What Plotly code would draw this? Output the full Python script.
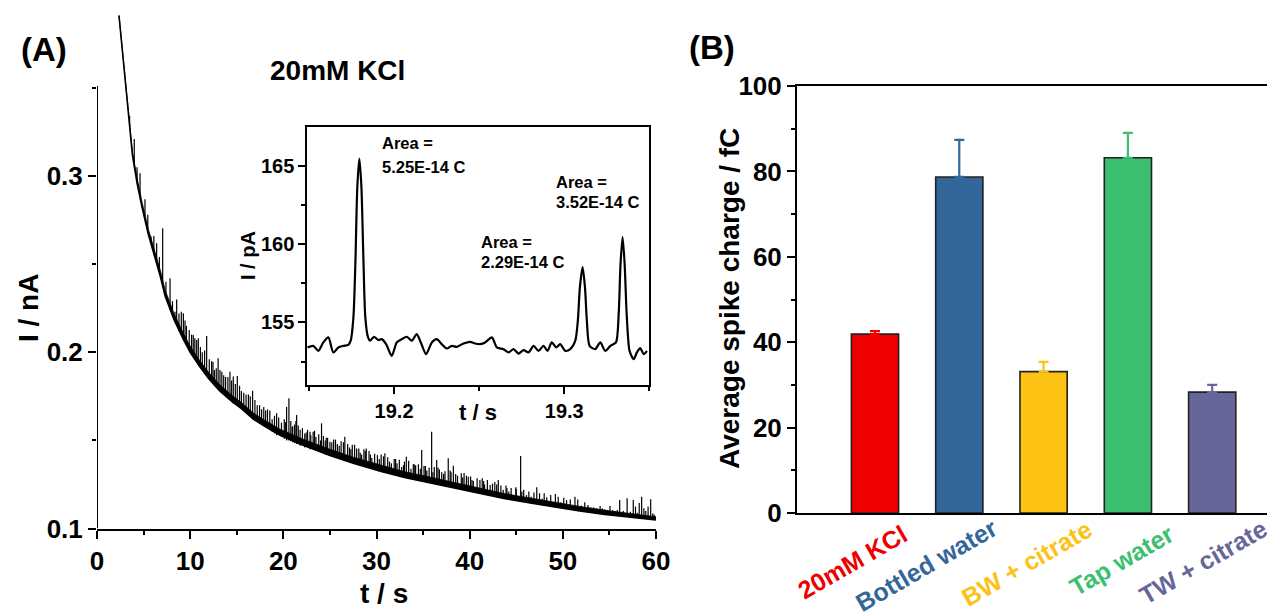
import plotly.graph_objects as go

# ---------------- data: panel A (chronoamperogram) ----------------
base_t = [2.36, 2.8, 3.3, 3.8, 4.3, 4.8, 5.5, 6.2, 6.8, 7.3, 8.3, 9.3, 10.0, 11.0, 12.0,
          13.2, 14.5, 15.5, 16.8, 18.0, 19.6, 22.0, 25.0, 27.5, 30.4, 33.0, 35.7, 38.4,
          41.1, 43.8, 46.5, 49.1, 51.8, 54.5, 57.2, 60.0]
base_I = [0.391, 0.366, 0.338, 0.312, 0.296, 0.283, 0.267, 0.254, 0.243, 0.232, 0.218,
          0.207, 0.200, 0.192, 0.185, 0.178, 0.172, 0.168, 0.162, 0.158, 0.153, 0.1475,
          0.1415, 0.137, 0.1325, 0.129, 0.126, 0.123, 0.120, 0.117, 0.1145, 0.1122,
          0.110, 0.108, 0.1064, 0.1049]
# upper edge of the dense noise band
band_I = [0.391, 0.367, 0.340, 0.314, 0.299, 0.286, 0.270, 0.257, 0.2465, 0.2355, 0.2215,
          0.2105, 0.2035, 0.1955, 0.1885, 0.1815, 0.1755, 0.1715, 0.1655, 0.1615, 0.1565,
          0.151, 0.145, 0.1405, 0.136, 0.1323, 0.1293, 0.1262, 0.123, 0.1198, 0.1173,
          0.1149, 0.1126, 0.1104, 0.1086, 0.1067]

# spikes: time, foot (baseline) and tip current
spike_t = [3.5, 4.0, 4.3, 4.62, 5.15, 5.45, 5.8, 6.1, 6.4, 6.7,
           7.05, 7.4, 7.84, 8.1, 8.37, 8.8, 9.27, 9.6, 9.9, 10.33,
           10.5, 10.87, 11.3, 11.77, 12.3, 12.6, 13.0, 13.4, 13.8, 14.27,
           14.63, 15.06, 15.5, 16.0, 16.7, 17.2, 17.67, 18.3, 18.8, 19.28,
           19.8, 20.35, 20.6, 21.0, 21.43, 21.8, 22.3, 22.86, 23.5, 24.1,
           24.5, 25.0, 25.8, 26.6, 27.1, 27.87, 28.4, 28.9, 29.5, 30.1,
           30.9, 31.6, 32.2, 32.7, 33.2, 33.7, 34.2, 34.85, 35.4, 35.92,
           36.46, 37.0, 37.7, 38.25, 38.7, 39.1, 39.85, 40.4, 41.1, 41.6,
           42.2, 43.07, 43.6, 44.2, 44.7, 45.47, 46.1, 46.6, 47.2, 47.8,
           48.27, 49.2, 49.8, 50.4, 51.3, 52.0, 52.7, 53.3, 54.0, 54.5,
           55.06, 55.6, 56.1, 56.9, 57.56, 58.0, 58.46, 58.9, 59.43, 59.8,
           8.55, 9.05, 9.45, 10.15, 10.7, 11.1, 11.55, 12.05, 12.45, 12.8,
           13.2, 13.6, 14.05, 14.45, 14.85, 15.3, 15.75, 16.25, 16.45, 16.95,
           17.45, 17.9, 18.1, 18.55, 19.05, 19.5, 20.1, 20.8, 21.2, 21.6,
           22.05, 22.6, 23.2, 23.8, 24.3, 24.75, 25.4, 26.2, 26.9, 27.4,
           28.1, 28.65, 29.2, 29.8, 30.5, 31.2, 31.9, 32.45, 33.0, 33.45,
           33.95, 34.5, 35.1, 35.65, 36.2, 36.75, 37.35, 38.0, 38.5, 39.4,
           40.1, 40.8, 41.35, 41.9, 42.7, 43.35, 43.9, 44.45, 45.0, 45.8,
           46.35, 46.9, 47.5, 48.0, 48.7, 49.5, 50.1, 50.8, 51.6, 52.35,
           53.0, 53.65, 54.25, 54.8, 55.35, 55.85, 56.5, 57.25, 57.8, 58.2,
           58.7, 59.15, 59.65,
           20.25, 20.95, 21.35, 22.45, 22.95, 23.35, 24.0, 24.6, 25.2, 25.6,
           26.0, 26.45, 27.25, 27.65, 28.25, 28.8, 29.35, 30.3, 30.75, 31.4,
           32.05, 32.9, 34.05, 34.7, 35.25, 36.05, 36.6, 37.2, 37.9, 39.25,
           39.65, 40.25, 41.5, 42.45, 42.9, 44.0, 44.95, 45.6]
spike_foot = [0.328, 0.306, 0.296, 0.288, 0.276, 0.270, 0.263, 0.257, 0.251, 0.246,
              0.237, 0.231, 0.224, 0.221, 0.217, 0.212, 0.207, 0.204, 0.201, 0.198,
              0.197, 0.193, 0.190, 0.187, 0.183, 0.181, 0.179, 0.177, 0.175, 0.173,
              0.171, 0.170, 0.168, 0.166, 0.163, 0.161, 0.159, 0.157, 0.155, 0.153,
              0.152, 0.150, 0.150, 0.149, 0.148, 0.147, 0.146, 0.145, 0.144, 0.143,
              0.142, 0.1415, 0.140, 0.139, 0.138, 0.1365, 0.136, 0.135, 0.134, 0.133,
              0.132, 0.131, 0.130, 0.1295, 0.1288, 0.128, 0.1275, 0.127, 0.1265, 0.1258,
              0.125, 0.1245, 0.1237, 0.1232, 0.1227, 0.122, 0.1213, 0.1207, 0.120, 0.1195,
              0.1187, 0.1178, 0.1172, 0.1166, 0.1161, 0.1153, 0.1148, 0.1144, 0.1138, 0.1133,
              0.1129, 0.1121, 0.1116, 0.1111, 0.1104, 0.1099, 0.1093, 0.1089, 0.1084, 0.108,
              0.1077, 0.1073, 0.107, 0.1066, 0.1062, 0.106, 0.1058, 0.1055, 0.1052, 0.105,
              0.215, 0.210, 0.2055, 0.199, 0.195, 0.191, 0.188, 0.1845, 0.182, 0.180,
              0.178, 0.176, 0.174, 0.172, 0.1705, 0.169, 0.167, 0.165, 0.164, 0.162,
              0.160, 0.1585, 0.158, 0.156, 0.154, 0.1532, 0.151, 0.1495, 0.1485, 0.1478,
              0.147, 0.146, 0.145, 0.1437, 0.1428, 0.142, 0.141, 0.1395, 0.1385, 0.1375,
              0.136, 0.1355, 0.1345, 0.1335, 0.1325, 0.1315, 0.1305, 0.130, 0.129, 0.1285,
              0.128, 0.1272, 0.1267, 0.126, 0.1255, 0.1248, 0.124, 0.1235, 0.123, 0.1218,
              0.121, 0.1203, 0.1198, 0.119, 0.1182, 0.1175, 0.117, 0.1163, 0.1158, 0.1151,
              0.1146, 0.1141, 0.1136, 0.1131, 0.1125, 0.1118, 0.1113, 0.1108, 0.1102, 0.1096,
              0.1091, 0.1086, 0.1082, 0.1078, 0.1075, 0.1072, 0.1068, 0.1064, 0.1061, 0.1059,
              0.1056, 0.1053, 0.1051,
              0.1515, 0.150, 0.149, 0.1466, 0.1456, 0.1448, 0.1435, 0.1423, 0.1411, 0.1404,
              0.1397, 0.1389, 0.1375, 0.1368, 0.1358, 0.135, 0.1341, 0.1327, 0.132, 0.1312,
              0.1303, 0.1291, 0.1278, 0.1271, 0.1265, 0.1256, 0.125, 0.1243, 0.1236, 0.1221,
              0.1216, 0.1209, 0.1196, 0.1185, 0.118, 0.1168, 0.1159, 0.1153]
spike_top = [0.334, 0.321, 0.305, 0.3015, 0.2868, 0.278, 0.2656, 0.266, 0.2618, 0.254,
             0.2703, 0.240, 0.242, 0.229, 0.223, 0.222, 0.2221, 0.215, 0.2126, 0.2098,
             0.208, 0.2079, 0.200, 0.2092, 0.195, 0.190, 0.1966, 0.189, 0.186, 0.189,
             0.1862, 0.1866, 0.178, 0.176, 0.1782, 0.170, 0.1677, 0.1676, 0.162, 0.1654,
             0.160, 0.169, 0.1739, 0.158, 0.1644, 0.156, 0.154, 0.155, 0.152, 0.1597,
             0.150, 0.1493, 0.148, 0.1521, 0.146, 0.1455, 0.142, 0.1455, 0.140, 0.1417,
             0.1427, 0.137, 0.137, 0.135, 0.1408, 0.134, 0.136, 0.1446, 0.133, 0.155,
             0.1389, 0.132, 0.1399, 0.1357, 0.130, 0.1314, 0.1294, 0.127, 0.1276, 0.125,
             0.1247, 0.1276, 0.122, 0.121, 0.119, 0.1412, 0.119, 0.118, 0.1234, 0.117,
             0.1178, 0.1196, 0.115, 0.1162, 0.1181, 0.113, 0.1134, 0.112, 0.1128, 0.111,
             0.1128, 0.110, 0.1162, 0.1172, 0.1162, 0.109, 0.1181, 0.110, 0.1166, 0.108,
             0.230, 0.223, 0.218, 0.210, 0.207, 0.203, 0.201, 0.196, 0.1945, 0.191,
             0.190, 0.187, 0.186, 0.184, 0.182, 0.181, 0.177, 0.176, 0.175, 0.173,
             0.170, 0.169, 0.167, 0.167, 0.164, 0.163, 0.162, 0.161, 0.159, 0.1585,
             0.157, 0.156, 0.155, 0.1535, 0.1525, 0.1515, 0.1505, 0.1495, 0.148, 0.1475,
             0.1455, 0.145, 0.144, 0.1425, 0.142, 0.1405, 0.1395, 0.139, 0.138, 0.1385,
             0.1365, 0.1365, 0.1355, 0.1345, 0.135, 0.1335, 0.1325, 0.132, 0.131, 0.1315,
             0.1295, 0.1285, 0.1285, 0.1275, 0.1265, 0.1245, 0.1245, 0.123, 0.1225, 0.122,
             0.121, 0.1205, 0.120, 0.120, 0.119, 0.118, 0.1175, 0.1165, 0.1165, 0.115,
             0.112, 0.1115, 0.1115, 0.1105, 0.1105, 0.1105, 0.110, 0.1095, 0.1125, 0.1145,
             0.1115, 0.1125, 0.1085,
             0.1605, 0.1575, 0.161, 0.1545, 0.153, 0.1555, 0.150, 0.1515, 0.149, 0.1505,
             0.147, 0.149, 0.145, 0.1475, 0.143, 0.144, 0.142, 0.1395, 0.141, 0.138,
             0.1395, 0.136, 0.1365, 0.134, 0.1355, 0.132, 0.1345, 0.131, 0.133, 0.129,
             0.130, 0.1275, 0.127, 0.1255, 0.125, 0.123, 0.1235, 0.121]

# inset (zoom of three spikes)
inset_t = [19.149, 19.1525, 19.1555, 19.1584, 19.1614, 19.1643, 19.1673, 19.1702, 19.1731,
           19.1745, 19.1761, 19.1773, 19.1784, 19.1796, 19.1808, 19.182, 19.1831, 19.1847,
           19.1859, 19.1882, 19.1908, 19.1927, 19.1953, 19.1986, 19.2016, 19.2045, 19.2075,
           19.2104, 19.2133, 19.2157, 19.2188, 19.2222, 19.2251, 19.228, 19.231, 19.2339,
           19.2369, 19.2408, 19.2447, 19.2476, 19.2506, 19.2535, 19.2575, 19.2604, 19.2643,
           19.2673, 19.2702, 19.2731, 19.2761, 19.279, 19.282, 19.2849, 19.2878, 19.2902,
           19.2927, 19.2953, 19.2976, 19.3006, 19.3035, 19.3065, 19.308, 19.3092, 19.3108,
           19.3122, 19.3133, 19.3149, 19.3182, 19.3212, 19.3241, 19.3271, 19.3304, 19.332,
           19.3331, 19.3343, 19.3355, 19.3367, 19.3384, 19.3408, 19.3427, 19.3447, 19.3467,
           19.3486]
inset_I = [153.40, 153.50, 153.18, 153.72, 154.04, 153.08, 153.40, 153.50, 153.57,
           153.83, 155.32, 158.95, 163.65, 165.47, 163.65, 158.95, 155.32, 154.04,
           153.83, 154.08, 153.87, 153.93, 153.61, 152.86, 153.72, 153.93, 154.08,
           153.83, 154.25, 153.72, 152.97, 153.72, 153.93, 153.61, 153.33, 153.50,
           153.44, 153.65, 153.76, 153.65, 153.61, 153.72, 154.04, 153.40, 153.29,
           153.08, 153.29, 153.01, 153.23, 153.08, 153.50, 153.18, 153.50, 153.18,
           153.72, 153.40, 153.61, 153.18, 153.29, 153.83, 155.11, 157.24, 158.53,
           157.24, 155.11, 153.50, 153.29, 153.72, 153.18, 153.50, 153.72, 155.53,
           158.74, 160.45, 158.74, 155.53, 153.18, 152.65, 153.08, 153.35, 152.97,
           153.18]
area_labels = ["5.25E-14 C", "3.52E-14 C", "2.29E-14 C"]

# ---------------- data: panel B ----------------
categories = ["20mM KCl", "Bottled water", "BW + citrate", "Tap water", "TW + citrate"]
charge_fC = [41.9, 78.7, 33.1, 83.2, 28.3]
charge_err = [0.7, 8.7, 2.3, 5.8, 1.7]
bar_colors = ["#EE0000", "#336699", "#FCC214", "#3CBF6E", "#666699"]

# ---------------- figure ----------------
# the page body keeps an 8 px margin, so the figure fills the rest of the window
OFF = 8
W, H = 1275 - OFF, 616 - OFF
FONT = "Liberation Sans, Arial, sans-serif"


def fx(px):
    return (px - OFF) / W


def fy(py):
    return 1 - (py - OFF) / H


fig = go.Figure()

fig.add_trace(go.Scatter(x=base_t, y=base_I, mode="lines",
                         line=dict(color="black", width=1.6),
                         xaxis="x", yaxis="y", hoverinfo="skip"))
fig.add_trace(go.Scatter(x=base_t, y=band_I, mode="lines",
                         line=dict(color="black", width=0.8),
                         fill="tonexty", fillcolor="black",
                         xaxis="x", yaxis="y", hoverinfo="skip"))
sx, sy = [], []
for t, lo, hi in zip(spike_t, spike_foot, spike_top):
    sx += [t, t, None]
    sy += [lo, hi, None]
fig.add_trace(go.Scatter(x=sx, y=sy, mode="lines",
                         line=dict(color="black", width=1.2),
                         xaxis="x", yaxis="y", hoverinfo="skip"))

fig.add_trace(go.Scatter(x=inset_t, y=inset_I, mode="lines",
                         line=dict(color="black", width=2.2, shape="spline", smoothing=0.7),
                         xaxis="x3", yaxis="y3", hoverinfo="skip"))

for cat, v, e, c in zip(categories, charge_fC, charge_err, bar_colors):
    fig.add_trace(go.Bar(x=[cat], y=[v], width=0.56,
                         marker=dict(color=c, line=dict(color="#222222", width=1.6)),
                         error_y=dict(type="data", symmetric=False, array=[e],
                                      arrayminus=[0], color=c, thickness=2.2, width=5),
                         xaxis="x2", yaxis="y2"))

tickfont = dict(family=FONT, size=26, color="black", weight="bold")
insetfont = dict(family=FONT, size=20, color="black", weight="bold")
common = dict(showgrid=False, zeroline=False, linecolor="black", linewidth=2,
              ticks="outside", tickcolor="black", tickwidth=2, automargin=False)

fig.update_layout(
    width=W, height=H, autosize=False,
    margin=dict(l=0, r=0, t=0, b=0, pad=0, autoexpand=False),
    paper_bgcolor="white", plot_bgcolor="white",
    showlegend=False, barmode="overlay",
    font=dict(family=FONT, color="black"),
    xaxis=dict(domain=[fx(97), fx(656)], range=[0, 60], anchor="y",
               showline=True, ticklen=8, tickvals=[0, 10, 20, 30, 40, 50, 60],
               minor=dict(tickvals=[5, 15, 25, 35, 45, 55], ticklen=4, tickwidth=2,
                          tickcolor="black", ticks="outside"),
               tickfont=tickfont, **common),
    yaxis=dict(domain=[fy(528.6), fy(12)], range=[0.1, 0.393], anchor="x",
               showline=False, ticklen=8, tickvals=[0.1, 0.2, 0.3],
               ticktext=["0.1", "0.2", "0.3"],
               minor=dict(tickvals=[0.15, 0.25, 0.35], ticklen=4, tickwidth=2,
                          tickcolor="black", ticks="outside"),
               tickfont=tickfont, **common),
    xaxis2=dict(domain=[fx(797), 1.0], anchor="y2", type="category",
                categoryorder="array", categoryarray=categories,
                range=[-0.925, 4.745], showline=True, mirror=True,
                showticklabels=False, showgrid=False, zeroline=False,
                linecolor="black", linewidth=2, ticks="", automargin=False),
    yaxis2=dict(domain=[fy(513), fy(86)], range=[0, 100], anchor="x2",
                showline=True, ticklen=8, tickvals=[0, 20, 40, 60, 80, 100],
                minor=dict(tickvals=[10, 30, 50, 70, 90], ticklen=4, tickwidth=2,
                           tickcolor="black", ticks="outside"),
                tickfont=tickfont, **common),
    xaxis3=dict(domain=[fx(307.3), fx(649.3)], range=[19.149, 19.350], anchor="y3",
                showline=True, mirror=True, ticklen=7, tickvals=[19.2, 19.3],
                ticktext=["19.2", "19.3"],
                minor=dict(tickvals=[19.15, 19.25, 19.35], ticklen=4, tickwidth=2,
                           tickcolor="black", ticks="outside"),
                tickfont=insetfont, **common),
    yaxis3=dict(domain=[fy(385), fy(126.7)], range=[151, 167.5], anchor="x3",
                showline=True, mirror=True, ticklen=7, tickvals=[155, 160, 165],
                minor=dict(tickvals=[152.5, 157.5, 162.5], ticklen=4, tickwidth=2,
                           tickcolor="black", ticks="outside"),
                tickfont=insetfont, **common),
)

# left axis line of panel A (stops at 0.35 while the trace runs above it)
fig.add_shape(type="line", xref="x", yref="y", x0=0, x1=0, y0=0.1, y1=0.351,
              line=dict(color="black", width=2))


def ann(text, x, y, size, angle=0, xanchor="center", color="black",
        xref="paper", yref="paper"):
    fig.add_annotation(text=text, x=x, y=y, xref=xref, yref=yref,
                       xanchor=xanchor, yanchor="middle", showarrow=False,
                       textangle=angle,
                       font=dict(family=FONT, size=size, color=color, weight="bold"))


ann("(A)", fx(44), fy(50), 33)
ann("(B)", fx(712), fy(48), 33)
ann("20mM KCl", fx(337), fy(70), 28)
ann("I / nA", fx(28), fy(308), 28, angle=-90)
ann("t / s", fx(384), fy(593), 28)
ann("Average spike charge / fC", fx(729), fy(299), 28, angle=-90)
ann("I / pA", fx(248), fy(256), 20, angle=-90)
ann("t / s", fx(478), fy(413), 22)

area_pos = [(380, 143.3, 166.7), (554, 181.7, 201.7), (479.3, 241.7, 261.7)]
for lab, (lx, y1, y2) in zip(area_labels, area_pos):
    ann("Area =", fx(lx), fy(y1), 16.5, xanchor="left")
    ann(lab, fx(lx), fy(y2), 16.5, xanchor="left")

label_centers = [(-0.27, 562), (-0.39, 565), (-0.20, 563), (-0.07, 560), (-0.11, 562)]
for i, (cat, c) in enumerate(zip(categories, bar_colors)):
    dx, cy = label_centers[i]
    ann(cat, i + dx, fy(cy), 25, angle=-30, color=c, xref="x2")

fig.write_html("out.html")
